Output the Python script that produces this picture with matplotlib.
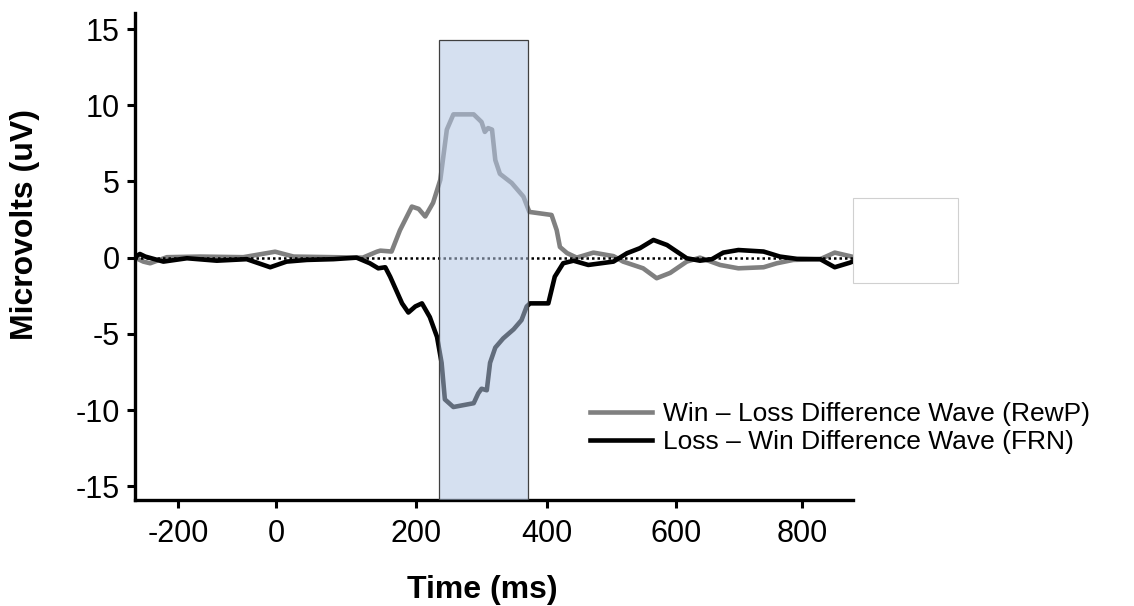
import numpy as np
import matplotlib.pyplot as plt
import matplotlib.patches as patches

plt.rcParams['font.family'] = ['Liberation Sans', 'DejaVu Sans']

# Win - Loss difference wave (RewP), time in ms / amplitude in uV
t_rewp = [-288, -271, -257, -223, -155, -67, -2, 25,
          82, 124, 144, 149, 165, 177, 194, 204,
          214, 226, 237, 247, 257, 288, 300, 305,
          310, 316, 321, 328, 346, 364, 373, 407,
          415, 420, 431, 446, 472, 503, 518, 549,
          570, 591, 617, 638, 670, 699, 739, 760,
          786, 829, 852, 876, 881]
v_rewp = [0.0, -0.26, -0.37, 0.03, 0.07, 0.03, 0.39, 0.07,
          0.03, 0.0, 0.39, 0.46, 0.4, 1.8, 3.35, 3.2,
          2.7, 3.6, 5.1, 8.4, 9.4, 9.4, 8.9, 8.25,
          8.5, 8.4, 6.4, 5.5, 4.9, 4.0, 3.0, 2.8,
          1.8, 0.7, 0.3, 0.0, 0.33, 0.1, -0.26, -0.7,
          -1.35, -1.0, -0.26, 0.0, -0.48, -0.7, -0.63, -0.37,
          -0.15, -0.1, 0.33, 0.1, 0.05]

# Loss - Win difference wave (FRN)
t_frn = [-288, -278, -267, -230, -182, -121, -60, -12,
         15, 44, 82, 115, 134, 146, 156, 163,
         180, 189, 199, 209, 221, 232, 239, 244,
         257, 288, 295, 300, 308, 313, 321, 333,
         349, 361, 369, 374, 402, 412, 425, 441,
         464, 503, 524, 544, 565, 586, 617, 638,
         657, 675, 699, 739, 765, 792, 829, 852,
         876, 881]
v_frn = [0.05, 0.24, 0.07, -0.26, -0.04, -0.2, -0.1, -0.63,
         -0.26, -0.15, -0.1, 0.0, -0.37, -0.7, -0.63, -1.25,
         -3.0, -3.6, -3.2, -3.0, -3.9, -5.2, -6.9, -9.3,
         -9.8, -9.55, -8.9, -8.6, -8.7, -6.9, -5.9, -5.3,
         -4.7, -4.1, -3.2, -3.0, -3.0, -1.25, -0.37, -0.2,
         -0.48, -0.26, 0.29, 0.62, 1.16, 0.83, -0.04, -0.2,
         -0.1, 0.33, 0.5, 0.4, 0.07, -0.08, -0.1, -0.63,
         -0.33, -0.25]

x_ticks = [-200, 0, 200, 400, 600, 800]
y_ticks = [-15, -10, -5, 0, 5, 10, 15]
window = (235, 371)   # shaded analysis window, ms

labels = ['Win \u2013 Loss Difference Wave (RewP)',
          'Loss \u2013 Win Difference Wave (FRN)']

# the original time axis is not evenly spaced, so map ms onto it piecewise
ms_anchor = np.array([-400, -200, 0, 200, 400, 600, 800, 1000])
px_anchor = np.array([80, 178, 276, 416, 547, 676, 802, 928])


def fwd(x):
    return np.interp(x, ms_anchor, px_anchor)


def inv(p):
    return np.interp(p, px_anchor, ms_anchor)


fig = plt.figure(figsize=(11.34, 6.06), dpi=100)
ax = fig.add_axes([135 / 1134, 1 - 500 / 606, 718 / 1134, 487 / 606])
ax.set_xscale('function', functions=(fwd, inv))
ax.set_xlim(-288, 881)
ax.set_ylim(-15.9, 16.05)

ax.plot(t_rewp, v_rewp, color='#808080', lw=3.3, label=labels[0], zorder=2,
        solid_joinstyle='round')
ax.plot(t_frn, v_frn, color='black', lw=3.3, label=labels[1], zorder=2.5,
        solid_joinstyle='round')
ax.axhline(0, color='black', lw=1.8, ls=(0, (1, 1.2)), zorder=3)

# shaded window drawn over the waves, semi-transparent
ax.add_patch(patches.Rectangle((window[0], -15.9), window[1] - window[0], 14.3 + 15.9,
                               facecolor='#b4c7e4', alpha=0.55, edgecolor='none', zorder=4))
ax.add_patch(patches.Rectangle((window[0], -15.9), window[1] - window[0], 14.3 + 15.9,
                               facecolor='none', edgecolor='#404040', lw=0.9, zorder=4))

ax.set_xticks(x_ticks)
ax.set_xticklabels([str(t) for t in x_ticks])
ax.set_yticks(y_ticks)
ax.set_yticklabels([str(t) for t in y_ticks])
ax.minorticks_off()
ax.tick_params(labelsize=22, width=2.2, length=6, colors='black')
ax.tick_params(axis='x', pad=8)
ax.tick_params(axis='y', pad=5)

for side in ['top', 'right']:
    ax.spines[side].set_visible(False)
for side in ['left', 'bottom']:
    ax.spines[side].set_linewidth(2.4)

ax.set_xlabel('Time (ms)', fontsize=23, fontweight='bold', va='center')
ax.xaxis.set_label_coords((482 - 135) / 718, (500 - 590) / 487)
ax.set_ylabel('Microvolts (uV)', fontsize=23, fontweight='bold', va='center')
ax.yaxis.set_label_coords((25 - 135) / 718, (500 - 225) / 487)

ax.legend(loc='upper left', bbox_to_anchor=(590 / 1134, 1 - 402 / 606),
          bbox_transform=fig.transFigure, frameon=False, fontsize=19,
          handlelength=2.35, handletextpad=0.42, labelspacing=0.15,
          borderpad=0, borderaxespad=0)

# blank white box at the right end of the axis
fig.patches.append(patches.Rectangle((853 / 1134, 1 - 283 / 606), 105 / 1134, 85 / 606,
                                     transform=fig.transFigure, facecolor='white',
                                     edgecolor='#d0d0d0', lw=0.8))

plt.savefig('out.png', dpi=100)
